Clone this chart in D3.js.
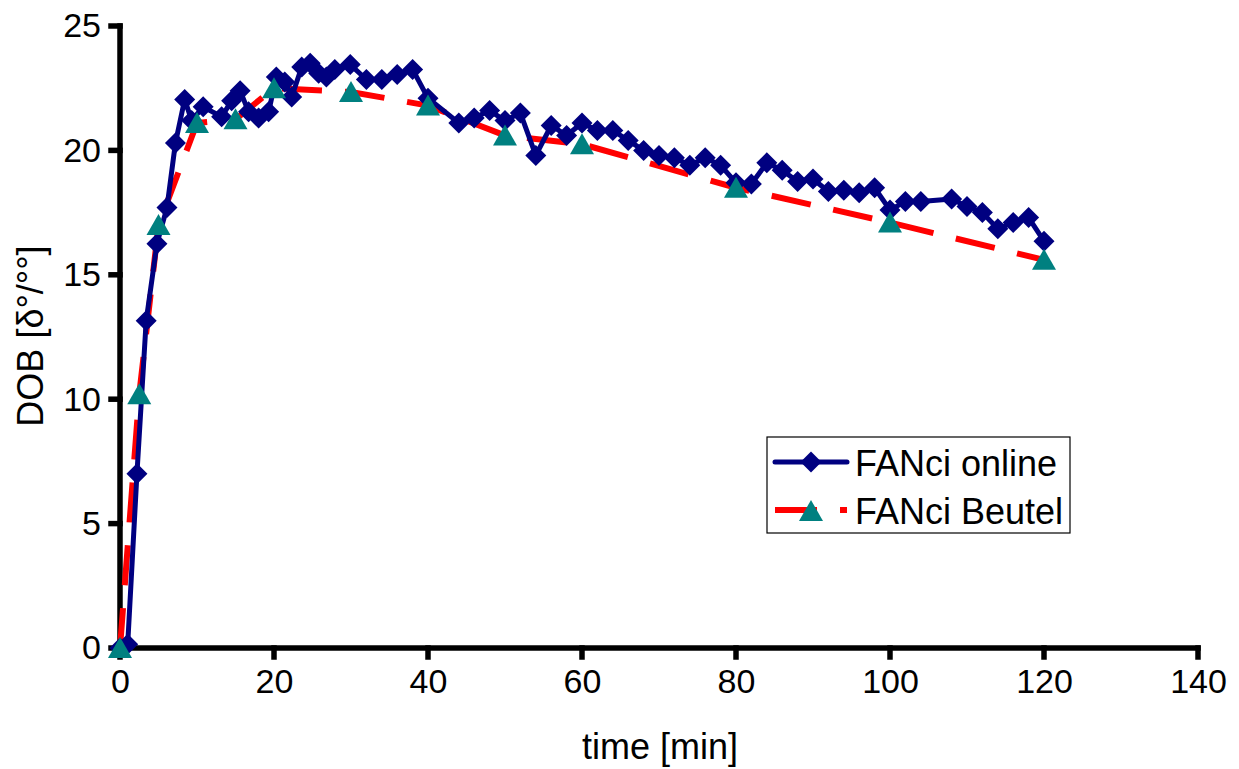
<!DOCTYPE html>
<html>
<head>
<meta charset="utf-8">
<script src="https://cdn.jsdelivr.net/npm/d3@7"></script>
<style>
  html, body { margin: 0; padding: 0; background: #fff; }
  svg { display: block; font-family: "Liberation Sans", Arial, sans-serif; }
</style>
</head>
<body>
<svg id="chart" width="1239" height="769"></svg>
<script>
// FANci online measurement (time in min, DOB)
const onlineTime = [0, 1, 2.2, 3.4, 4.8, 6.1, 7.2, 8.4, 9.3, 10.8, 13.2, 14.5, 15.6, 16.7, 18.0, 19.3,
  20.3, 21.4, 22.3, 23.6, 24.7, 25.8, 26.8, 27.9, 29.9, 32, 34, 36, 38, 40,
  44, 46, 48, 50, 52, 54, 56, 58, 60, 62, 64, 66, 68, 70, 72, 74, 76, 78, 80,
  82, 84, 86, 88, 90, 92, 94, 96, 98, 100, 102, 104, 108, 110, 112, 114, 116, 118, 120];
const onlineDOB = [0, 0.15, 7.0, 13.15, 16.25, 17.7, 20.3, 22.05, 21.2, 21.75, 21.35, 22.0, 22.4, 21.55, 21.3, 21.55,
  22.95, 22.75, 22.15, 23.35, 23.5, 23.1, 22.95, 23.25, 23.45, 22.85, 22.85, 23.05, 23.25, 22.1,
  21.1, 21.3, 21.6, 21.2, 21.5, 19.8, 21.0, 20.6, 21.1, 20.8, 20.8, 20.4, 20.0, 19.8, 19.7, 19.4, 19.7, 19.4, 18.7,
  18.65, 19.5, 19.2, 18.75, 18.85, 18.35, 18.4, 18.3, 18.5, 17.6, 17.95, 17.95, 18.05, 17.75, 17.5, 16.85, 17.1, 17.3, 16.35];

// FANci Beutel (bag) samples
const beutelTime = [0, 2.5, 5, 10, 15, 20, 30, 40, 50, 60, 80, 100, 120];
const beutelDOB = [0, 10.2, 17.0, 21.1, 21.25, 22.5, 22.35, 21.8, 20.6, 20.25, 18.5, 17.1, 15.6];

const xTicks = [0, 20, 40, 60, 80, 100, 120, 140];
const yTicks = [0, 5, 10, 15, 20, 25];
const seriesNames = ["FANci online", "FANci Beutel"];

const svg = d3.select("#chart");
const x = d3.scaleLinear().domain([0, 140]).range([120, 1198]);
const y = d3.scaleLinear().domain([0, 25]).range([648, 26]);

const navy = "#000080", red = "#ff0000", teal = "#008080";
const FONT = "'Liberation Sans', Arial, sans-serif";
const AXW = 5.5;
const diamond = r => `M0,${-r}L${r},0L0,${r}L${-r},0Z`;
const triangle = "M0,-11L12,10L-12,10Z";

// axes: labels from d3.axis, heavy black lines drawn on top
const xAxis = svg.append("g").attr("transform", "translate(0,648)")
  .call(d3.axisBottom(x).tickValues(xTicks).tickSize(0).tickPadding(21));
const yAxis = svg.append("g").attr("transform", "translate(120,0)")
  .call(d3.axisLeft(y).tickValues(yTicks).tickSize(0).tickPadding(19));
[xAxis, yAxis].forEach(g => {
  g.select(".domain").remove();
  g.selectAll(".tick line").remove();
  g.selectAll(".tick text").attr("fill", "#000").style("font-size", "34px").style("font-family", FONT);
});
xAxis.selectAll(".tick text").attr("dy", "0.71em");

const axLines = svg.append("g").attr("stroke", "#000").attr("stroke-width", AXW).attr("stroke-linecap", "square");
axLines.append("line").attr("x1", x(0)).attr("x2", x(0)).attr("y1", y(25)).attr("y2", y(0));
axLines.append("line").attr("x1", x(0)).attr("x2", x(140)).attr("y1", y(0)).attr("y2", y(0));
axLines.selectAll("line.yt").data(yTicks).join("line").attr("class", "yt")
  .attr("x1", x(0) - 9).attr("x2", x(0)).attr("y1", d => y(d)).attr("y2", d => y(d));
axLines.selectAll("line.xt").data(xTicks).join("line").attr("class", "xt")
  .attr("x1", d => x(d)).attr("x2", d => x(d)).attr("y1", y(0)).attr("y2", y(0) + 9);

// axis titles
svg.append("text").attr("x", 660).attr("y", 759).attr("text-anchor", "middle")
  .style("font-size", "36px").style("font-family", FONT).text("time [min]");
svg.append("text").attr("transform", "translate(43,336) rotate(-90)").attr("text-anchor", "middle")
  .style("font-size", "36px").style("font-family", FONT).text("DOB [δ°/°°]");

// Beutel series: dashed red line with teal triangles
const beutel = beutelTime.map((t, i) => [t, beutelDOB[i]]);
const online = onlineTime.map((t, i) => [t, onlineDOB[i]]);
const line = d3.line().x(d => x(d[0])).y(d => y(d[1]));

svg.append("path").datum(beutel).attr("d", line).attr("fill", "none")
  .attr("stroke", red).attr("stroke-width", 6).attr("stroke-dasharray", "40,23");

svg.append("path").datum(online).attr("d", line).attr("fill", "none")
  .attr("stroke", navy).attr("stroke-width", 5).attr("stroke-linejoin", "round");
svg.append("g").selectAll("path").data(online).join("path")
  .attr("d", diamond(10.5)).attr("fill", navy)
  .attr("transform", d => `translate(${x(d[0])},${y(d[1])})`);

svg.append("g").selectAll("path").data(beutel).join("path")
  .attr("d", triangle).attr("fill", teal)
  .attr("transform", d => `translate(${x(d[0])},${y(d[1])})`);

// legend
const lg = svg.append("g");
lg.append("rect").attr("x", 767).attr("y", 437).attr("width", 303).attr("height", 96)
  .attr("fill", "#fff").attr("stroke", "#000").attr("stroke-width", 1.2);
lg.append("line").attr("x1", 775).attr("x2", 847).attr("y1", 462).attr("y2", 462)
  .attr("stroke", navy).attr("stroke-width", 5).attr("stroke-linecap", "round");
lg.append("path").attr("d", diamond(10.5)).attr("fill", navy).attr("transform", "translate(811,462)");
lg.append("line").attr("x1", 775).attr("x2", 847).attr("y1", 510).attr("y2", 510)
  .attr("stroke", red).attr("stroke-width", 6).attr("stroke-dasharray", "42,23");
lg.append("path").attr("d", triangle).attr("fill", teal).attr("transform", "translate(811,511)");
lg.selectAll("text.lab").data(seriesNames).join("text").attr("class", "lab")
  .attr("x", 855).attr("y", (d, i) => 476 + i * 48)
  .style("font-size", "36px").style("font-family", FONT).text(d => d);
</script>
</body>
</html>
